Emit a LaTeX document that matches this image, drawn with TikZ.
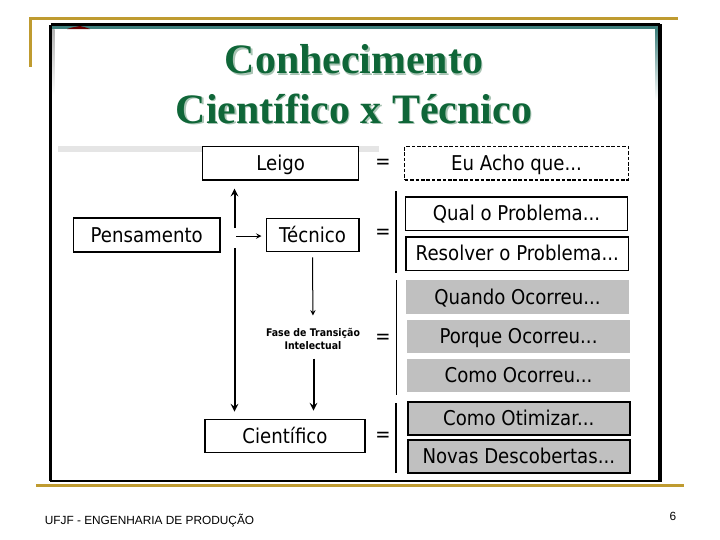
\documentclass[tikz,border=0pt]{standalone}
\usepackage{fontspec}
\setmainfont{Liberation Serif}
\setsansfont{DejaVu Sans}[FakeStretch=0.89]
\newfontfamily\footerfont{Liberation Sans}
\usetikzlibrary{calc}
\definecolor{slidegold}{HTML}{BF9B30}
\definecolor{slidegreen}{HTML}{0F6638}
\definecolor{slideshadow}{HTML}{A9C4B4}
\definecolor{slideteal}{HTML}{3E7F7C}
\definecolor{boxgray}{HTML}{C0C0C0}
\tikzset{
    termbox/.style={draw=black, line width=.3mm, minimum width=#1, minimum height=8.4mm,
        inner sep=0pt, text height=12.6pt, text depth=2pt, font=\sffamily\fontsize{14.5}{16}\selectfont},
    termbox/.default=55mm,
    answerbox/.style={termbox=55.5mm, line width=.4mm},
    grayplain/.style={termbox=55.5mm, draw=none, fill=boxgray},
    grayframed/.style={termbox=55.5mm, line width=.5mm, fill=boxgray},
    titletext/.style={font=\bfseries\fontsize{29.8}{35.5}\selectfont, align=center, inner sep=0pt},
    equalsign/.style={font=\sffamily\fontsize{14.5}{16}\selectfont, inner sep=0pt},
    footertext/.style={font=\footerfont\fontsize{8.43}{10}\selectfont, inner sep=0pt},
}

\begin{document}
\begin{tikzpicture}[>=stealth, x=.25mm, y=-.25mm]

    % --- 1. page ---
    \useasboundingbox (0,0) rectangle (720,540);
    \fill[white] (0,0) rectangle (720,540);
    \draw[slidegold, line width=.75mm] (29,18.5) -- (678,18.5);
    \draw[slidegold, line width=.75mm] (30.5,18) -- (30.5,67);
    \draw[slidegold, line width=.75mm] (36,485) -- (684,485);

    % --- 2. slide frame ---
    \fill[slideteal] (52,25) rectangle (658,29);
    \shade[top color=gray!60, bottom color=white] (52,29) rectangle (54.5,95);
    \shade[top color=slideteal, bottom color=white] (655,29) rectangle (658,100);
    \fill[black!60!red] (67,29) -- (72,27.5) -- (80,26) -- (86,27.5) -- (90,29) -- cycle;
    \draw[black, line width=.75mm] (50.5,24.5) -- (659.5,24.5);
    \draw[black, line width=.75mm] (50.5,24.5) -- (50.5,481);
    \draw[black, line width=1mm] (659.5,24) -- (659.5,481.5);
    \draw[black, line width=.6mm] (50,481) -- (660,481);
    \fill[black!10] (58,146) rectangle (379,152);

    % --- 3. title ---
    \node[titletext, slideshadow] (titleshadow) at (355.2,85.7) {Conhecimento\\Científico x Técnico};
    \node[titletext, slidegreen] (title) at (354,84.5) {Conhecimento\\Científico x Técnico};

    % --- 4. left column ---
    \node[termbox=38.9mm, fill=white] (leigo) at (280.7,163.2) {Leigo};
    \node[termbox=36.6mm, line width=.4mm] (pensamento) at (146.7,235) {Pensamento};
    \node[termbox=23.2mm] (tecnico) at (312.5,235) {Técnico};
    \node[termbox=40mm] (cientifico) at (285,436) {Científico};
    \node[inner sep=0pt, align=center, font=\sffamily\bfseries\fontsize{7.5}{8.9}\selectfont] (fase)
        at (313,339) {Fase de Transição\\Intelectual};

    % --- 5. arrows ---
    \coordinate (branchup) at (234.5,228);
    \coordinate (branchdown) at (234.5,248);
    \coordinate (branchright) at (236,236);
    \coordinate (faseout) at ($(fase.south)+(.5,0)$);
    \draw[->, line width=.5mm, shorten >=2mm] (branchup) -- (branchup |- leigo.south);
    \draw[->, line width=.5mm, shorten >=1.75mm] (branchdown) -- (branchdown |- cientifico.north);
    \draw[->, line width=.25mm, shorten >=1mm] (branchright) -- (branchright -| tecnico.west);
    \draw[->, line width=.25mm, shorten <=1.25mm, shorten >=3.2mm] (tecnico.south) -- (fase.north);
    \draw[->, line width=.5mm, shorten <=2.25mm, shorten >=2mm] (faseout) -- (faseout |- cientifico.north);

    % --- 6. right column ---
    \node[termbox=55.8mm, dash pattern=on .9mm off .45mm] (eu) at (516.5,163.2) {Eu Acho que...};
    \node[answerbox] (qual) at (516.5,213.5) {Qual o Problema...};
    \node[answerbox] (resolver) at (517.3,253.5) {Resolver o Problema...};
    \node[grayplain] (quando) at (517.5,297) {Quando Ocorreu...};
    \node[grayplain] (porque) at (518.5,336.5) {Porque Ocorreu...};
    \node[grayplain] (como) at (518.5,375.5) {Como Ocorreu...};
    \node[grayframed] (otimizar) at (518.8,418.5) {Como Otimizar...};
    \node[grayframed] (novas) at (518.8,456.5) {Novas Descobertas...};

    % --- 7. equal signs and bars ---
    \foreach \n/\yy in {a/164, b/234, c/339, d/437} {
        \node[equalsign] (eq\n) at (383,\yy) {=};
    }
    \draw[line width=.5mm] (396,191) -- (396,273);
    \draw[line width=.25mm] (396,280) -- (396,395);
    \draw[line width=.3mm] (396,403) -- (396,473);

    % --- 8. footer ---
    \node[footertext, anchor=west] (footer) at (44.5,521) {UFJF - ENGENHARIA DE PRODUÇÃO};
    \node[footertext] (page) at (673,516) {6};

\end{tikzpicture}
\end{document}
